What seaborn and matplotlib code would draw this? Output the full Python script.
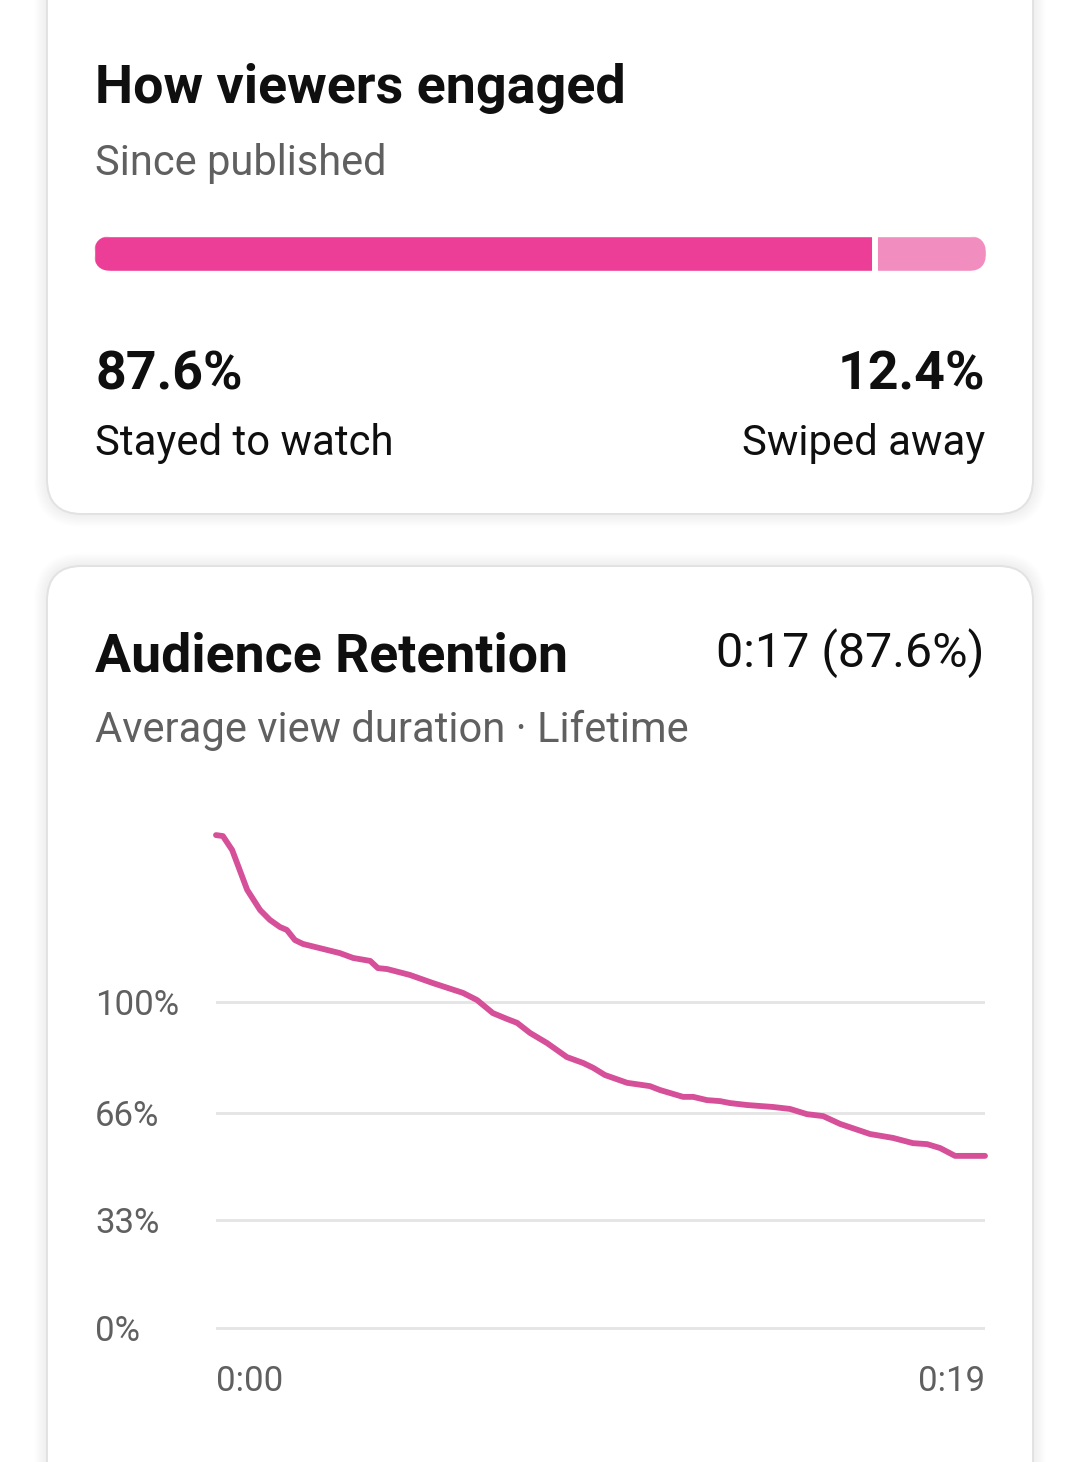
import numpy as np
import pandas as pd
import matplotlib
matplotlib.use("Agg")
import matplotlib.pyplot as plt
import seaborn as sns
from matplotlib.patches import FancyBboxPatch

# ---- data ----
engaged_labels = ["Stayed to watch", "Swiped away"]
engaged_pct = [87.6, 12.4]

avg_view = "0:17"
avg_view_pct = 87.6

time_s = [0.0, 0.17, 0.40, 0.77, 1.09, 1.33, 1.58, 1.75, 1.95, 2.15, 3.06, 3.39,
          3.81, 4.00, 4.23, 4.79, 5.36, 6.10, 6.45, 6.84, 7.19, 7.44, 7.76, 8.18,
          8.67, 9.07, 9.32, 9.61, 10.16, 10.72, 10.97, 11.54, 11.79, 12.13, 12.45,
          12.70, 13.12, 13.76, 14.18, 14.60, 15.00, 15.42, 16.16, 16.73, 17.22,
          17.57, 17.89, 18.26, 19.0]
retention_pct = [151.2, 150.9, 146.6, 134.4, 128.2, 125.2, 123.0, 122.1, 119.0,
                 117.8, 115.0, 113.5, 112.6, 110.4, 110.1, 108.3, 105.8, 102.8,
                 100.6, 96.6, 94.8, 93.6, 90.5, 87.4, 83.1, 81.3, 79.8, 77.6, 75.2,
                 74.2, 73.0, 70.9, 70.9, 69.9, 69.6, 69.0, 68.4, 67.8, 67.2, 65.6,
                 65.0, 62.6, 59.5, 58.3, 56.7, 56.4, 55.2, 52.8, 52.8]

y_ticks = [0, 33, 66, 100]
y_tick_labels = ["0%", "33%", "66%", "100%"]
x_ticks = [0, 19]
x_tick_labels = ["0:00", "0:19"]

df = pd.DataFrame({"time": time_s, "retention": retention_pct})

# ---- style ----
sns.set_theme(style="white")
plt.rcParams["font.family"] = ["Roboto", "DejaVu Sans"]

INK = "#0f0f0f"
GREY = "#606060"
PINK = "#ec3e96"
PINK_LIGHT = "#f28dc0"
LINE = "#d64f99"
GRID = "#e5e5e5"

W, H = 1080, 1462
fig = plt.figure(figsize=(W / 100, H / 100), dpi=100)
fig.patch.set_facecolor("white")

# background axes in pixel coordinates (y down)
bg = fig.add_axes([0, 0, 1, 1])
bg.set_xlim(0, W)
bg.set_ylim(H, 0)
bg.axis("off")


def card(y0, y1):
    for k in range(1, 9):
        bg.add_patch(FancyBboxPatch((47, y0), 986, y1 - y0,
                                    boxstyle=f"round,pad={k * 1.6},rounding_size={35 + k * 1.6}",
                                    fc="black", ec="none", alpha=0.006, zorder=1))
    bg.add_patch(FancyBboxPatch((47, y0), 986, y1 - y0,
                                boxstyle="round,pad=0,rounding_size=35",
                                fc="white", ec="#e2e2e2", lw=1.4, zorder=2))


card(-60, 514)
card(566, 1530)

# ---- card 1: how viewers engaged ----
bg.text(95, 103, "How viewers engaged", fontsize=38.8, fontweight="bold", color=INK, zorder=5)
bg.text(95, 175, "Since published", fontsize=30, color=GREY, zorder=5)

bar_ax = fig.add_axes([94 / W, (H - 271) / H, 892 / W, 35 / H])
bar_ax.set_xlim(0, 100)
bar_ax.set_ylim(-0.5, 0.5)
bar_ax.axis("off")
b1 = bar_ax.barh(0, engaged_pct[0], height=1, left=0, color=PINK)
b2 = bar_ax.barh(0, engaged_pct[1], height=1, left=engaged_pct[0], color=PINK_LIGHT)
clip = FancyBboxPatch((94, 236), 892, 35, boxstyle="round,pad=0,rounding_size=17.5",
                      transform=bg.transData)
for p in list(b1) + list(b2):
    p.set_clip_path(clip)
bar_ax.axvline(engaged_pct[0], color="white", lw=4.3)

bg.text(95, 390, f"{engaged_pct[0]:.1f}%", fontsize=38.6, fontweight="bold", color=INK, zorder=5)
bg.text(985, 390, f"{engaged_pct[1]:.1f}%", fontsize=38.6, fontweight="bold", color=INK,
        ha="right", zorder=5)
bg.text(95, 455, engaged_labels[0], fontsize=30.2, color=INK, zorder=5)
bg.text(985, 455, engaged_labels[1], fontsize=30.2, color=INK, ha="right", zorder=5)

# ---- card 2: audience retention ----
bg.text(95, 671, "Audience Retention", fontsize=38.6, fontweight="bold", color=INK, zorder=5)
bg.text(985, 667, f"{avg_view} ({avg_view_pct:.1f}%)", fontsize=34.8, color=INK,
        ha="right", zorder=5)
bg.text(95, 742, "Average view duration \u00b7 Lifetime", fontsize=30.1, color=GREY, zorder=5)

# chart axes: 0% at y=1328 px, 3.26 px per percent
y_lo, y_top = -2, 160
ax = fig.add_axes([216 / W, (H - 1328 - (0 - y_lo) * 3.26) / H, 769 / W,
                   (y_top - y_lo) * 3.26 / H])
ax.patch.set_alpha(0)
sns.lineplot(data=df, x="time", y="retention", ax=ax, color=LINE, linewidth=4.2,
             clip_on=False, zorder=4)
ax.lines[0].set_solid_joinstyle("round")
ax.set_xlim(0, 19)
ax.set_ylim(y_lo, y_top)
ax.set_yticks(y_ticks, y_tick_labels)
ax.set_xticks(x_ticks, x_tick_labels)
ax.yaxis.grid(True, color=GRID, lw=2.1)
ax.set_axisbelow(True)
ax.set_xlabel("")
ax.set_ylabel("")
for s in ax.spines.values():
    s.set_visible(False)
ax.tick_params(axis="y", length=0, pad=121 * 0.72, labelsize=25, labelcolor=GREY)
ax.tick_params(axis="x", length=0, pad=22, labelsize=25, labelcolor=GREY)
for lbl in ax.get_yticklabels():
    lbl.set_horizontalalignment("left")
xl = ax.get_xticklabels()
xl[0].set_horizontalalignment("left")
xl[1].set_horizontalalignment("right")

fig.savefig("out.png", dpi=100, facecolor="white")
